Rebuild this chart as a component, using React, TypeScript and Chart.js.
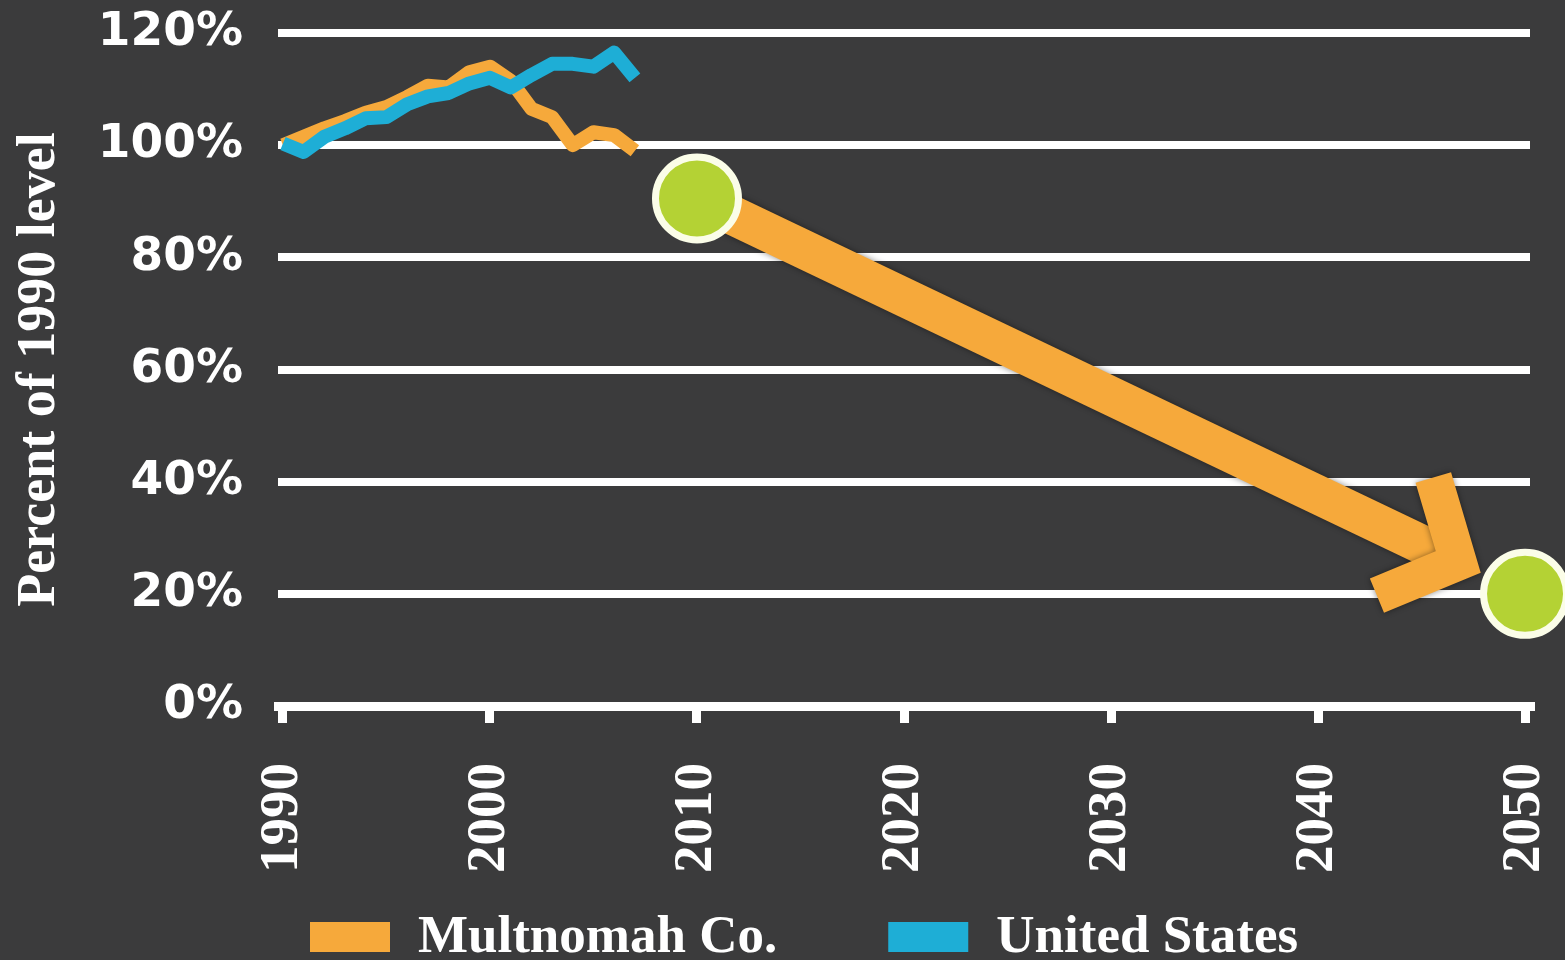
import React, { useEffect, useRef } from "react";
import { Chart, registerables } from "chart.js";

Chart.register(...registerables);

// ---- Data ----
const years = [1990, 1991, 1992, 1993, 1994, 1995, 1996, 1997, 1998, 1999, 2000, 2001, 2002, 2003, 2004, 2005, 2006, 2007];
const multnomah = [100, 101.5, 103, 104.3, 105.8, 106.8, 108.6, 110.6, 110.3, 113, 114, 111.5, 106.5, 105, 100, 102.3, 101.8, 99];
const unitedStates = [100.3, 98.8, 101.5, 103, 104.8, 105, 107.3, 108.7, 109.3, 111, 112, 110.3, 112.5, 114.5, 114.5, 114, 116.5, 112];
const targetYears = [2010, 2050];
const targetValues = [90.5, 20];
const xTickYears = [1990, 2000, 2010, 2020, 2030, 2040, 2050];
const yTickValues = [0, 20, 40, 60, 80, 100, 120];
const seriesLabels = ["Multnomah Co.", "United States"];
const yAxisTitle = "Percent of 1990 level";

const ORANGE = "#f6a93b";
const BLUE = "#1eaed6";
const GREEN = "#b4d234";
const BG = "#3b3b3c";
const WHITE = "#ffffff";

const arrowPlugin = {
  id: "targetArrow",
  beforeDatasetsDraw(chart: any) {
    const xs = chart.scales.x;
    const ys = chart.scales.y;
    const x0 = xs.getPixelForValue(targetYears[0]);
    const y0 = ys.getPixelForValue(targetValues[0]);
    const x1 = xs.getPixelForValue(targetYears[1]);
    const y1 = ys.getPixelForValue(targetValues[1]);
    const dx = x1 - x0;
    const dy = y1 - y0;
    const len = Math.hypot(dx, dy);
    const ux = dx / len;
    const uy = dy / len;
    const gap = 74;
    const vx = x1 - ux * gap;
    const vy = y1 - uy * gap;
    const ctx = chart.ctx;
    ctx.save();
    ctx.shadowColor = "rgba(0,0,0,0.45)";
    ctx.shadowBlur = 6;
    ctx.strokeStyle = ORANGE;
    ctx.lineCap = "butt";
    ctx.lineWidth = 39;
    ctx.beginPath();
    ctx.moveTo(x0, y0);
    ctx.lineTo(vx, vy);
    ctx.stroke();
    const back = Math.atan2(-uy, -ux);
    const a = (48 * Math.PI) / 180;
    const L = 88;
    ctx.lineWidth = 37;
    ctx.lineJoin = "miter";
    ctx.miterLimit = 10;
    ctx.beginPath();
    ctx.moveTo(vx + Math.cos(back + a) * L, vy + Math.sin(back + a) * L);
    ctx.lineTo(vx, vy);
    ctx.lineTo(vx + Math.cos(back - a) * L, vy + Math.sin(back - a) * L);
    ctx.stroke();
    ctx.restore();
  },
};

const legendPlugin = {
  id: "bottomLegend",
  afterDraw(chart: any) {
    const ctx = chart.ctx;
    const colors = [ORANGE, BLUE];
    const boxW = 80;
    const boxH = 30;
    const top = chart.height - 38;
    let x = chart.chartArea.left + 32;
    ctx.save();
    ctx.font = "bold 53px 'Liberation Serif', serif";
    ctx.textBaseline = "alphabetic";
    ctx.textAlign = "left";
    seriesLabels.forEach((label, i) => {
      ctx.fillStyle = colors[i];
      ctx.fillRect(x, top, boxW, boxH);
      x += boxW + 28;
      ctx.fillStyle = WHITE;
      ctx.fillText(label, x, top + boxH);
      x += ctx.measureText(label).width + 111;
    });
    ctx.restore();
  },
};

const zeroPadding = (scale: any) => {
  scale.paddingLeft = 0;
  scale.paddingRight = 0;
  scale.paddingTop = 0;
  scale.paddingBottom = 0;
};

export default function App() {
  const ref = useRef<HTMLCanvasElement | null>(null);

  useEffect(() => {
    if (!ref.current) return;
    const chart = new Chart(ref.current, {
      type: "line",
      data: {
        datasets: [
          {
            label: "2010 / 2050 targets",
            data: targetYears.map((x, i) => ({ x, y: targetValues[i] })),
            showLine: false,
            pointRadius: 41.5,
            pointHoverRadius: 41.5,
            pointBackgroundColor: GREEN,
            pointBorderColor: "#fbfde8",
            pointBorderWidth: 7,
            clip: false,
            order: 0,
          } as any,
          {
            label: seriesLabels[1],
            data: years.map((x, i) => ({ x, y: unitedStates[i] })),
            borderColor: BLUE,
            backgroundColor: BLUE,
            borderWidth: 14,
            pointRadius: 0,
            tension: 0,
            borderJoinStyle: "round",
            order: 1,
          },
          {
            label: seriesLabels[0],
            data: years.map((x, i) => ({ x, y: multnomah[i] })),
            borderColor: ORANGE,
            backgroundColor: ORANGE,
            borderWidth: 14,
            pointRadius: 0,
            tension: 0,
            borderJoinStyle: "round",
            order: 2,
          },
        ],
      },
      options: {
        responsive: false,
        animation: false,
        devicePixelRatio: 1,
        layout: { autoPadding: false, padding: { left: 8, right: 35, top: 33, bottom: 0 } },
        plugins: {
          legend: { display: false },
          tooltip: { enabled: false },
        },
        scales: {
          x: {
            type: "linear",
            min: 1989.76,
            max: 2050.24,
            afterBuildTicks: (scale: any) => {
              scale.ticks = xTickYears.map((v) => ({ value: v }));
            },
            afterFit: (scale: any) => {
              scale.height = 254;
              zeroPadding(scale);
            },
            grid: {
              drawOnChartArea: false,
              drawTicks: true,
              tickLength: 17,
              tickWidth: 9,
              color: WHITE,
              lineWidth: 9,
            },
            border: { display: true, color: WHITE, width: 9 },
            ticks: {
              color: WHITE,
              autoSkip: false,
              minRotation: 90,
              maxRotation: 90,
              padding: 40,
              font: { family: "'Liberation Serif', serif", size: 55, weight: "bold" },
              callback: (v: any) => String(v),
            },
          },
          y: {
            min: 0,
            max: 120,
            afterBuildTicks: (scale: any) => {
              scale.ticks = yTickValues.map((v) => ({ value: v }));
            },
            afterFit: (scale: any) => {
              scale.width = 270;
              zeroPadding(scale);
            },
            grid: {
              drawTicks: false,
              color: WHITE,
              lineWidth: 8,
            },
            border: { display: false },
            ticks: {
              color: WHITE,
              padding: 35,
              font: { family: "'DejaVu Sans', sans-serif", size: 47, weight: "bold" },
              callback: (v: any) => v + "%",
            },
            title: {
              display: true,
              text: yAxisTitle,
              color: WHITE,
              padding: 0,
              font: { family: "'Liberation Serif', serif", size: 54, weight: "bold" },
            },
          },
        },
      },
      plugins: [arrowPlugin, legendPlugin],
    });
    return () => chart.destroy();
  }, []);

  return (
    <div style={{ position: "fixed", left: 0, top: 0, width: 1565, height: 960, background: BG }}>
      <canvas ref={ref} width={1565} height={960} style={{ display: "block" }} />
    </div>
  );
}
